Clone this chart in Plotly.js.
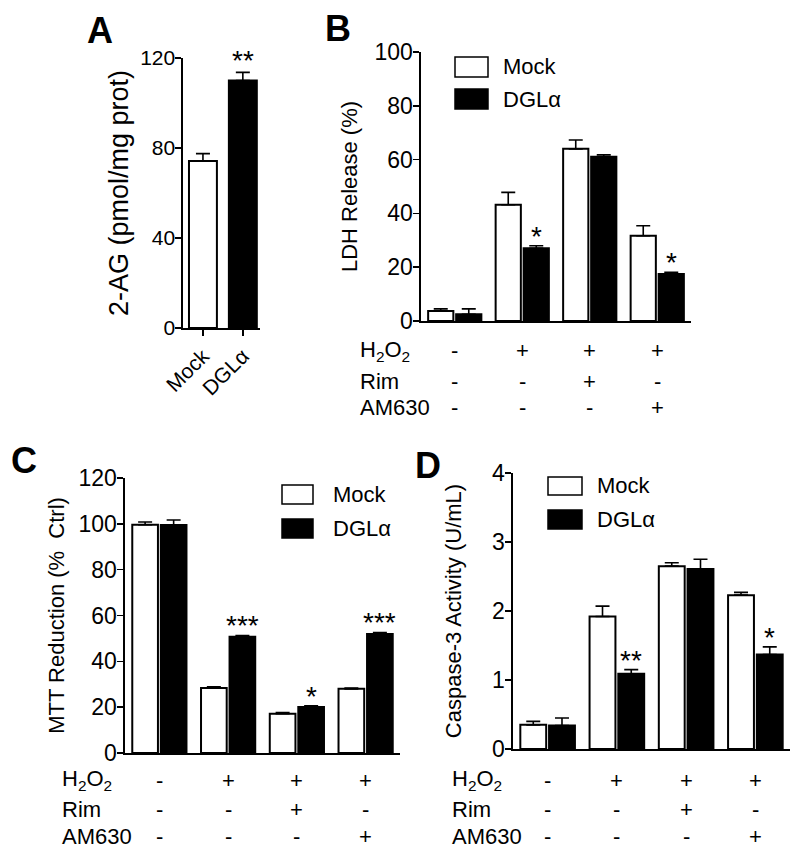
<!DOCTYPE html>
<html>
<head>
<meta charset="utf-8">
<script src="https://cdn.plot.ly/plotly-3.0.1.min.js"></script>
<style>html,body{margin:0;padding:0;background:#fff;}#chart{width:800px;height:853px;}</style>
</head>
<body>
<div id="chart"></div>
<script>
// ---------- data ----------
const catsA = ['Mock', 'DGLα'];
const valsA = [74.2, 110.0];
const errA = [3.3, 3.6];
const starsA = ['', '**'];

const conditions = [0, 1, 2, 3];
const rowH2O2 = ['-', '+', '+', '+'];
const rowRim = ['-', '-', '+', '-'];
const rowAM630 = ['-', '-', '-', '+'];

const mockB = [3.7, 43.2, 64.0, 31.7];
const mockBErr = [0.8, 4.6, 3.3, 3.7];
const dglB = [2.5, 27.0, 61.1, 17.5];
const dglBErr = [2.0, 1.0, 0.7, 0.6];
const starsB = ['', '*', '', '*'];

const mockC = [99.6, 28.4, 17.1, 28.0];
const mockCErr = [1.2, 0.5, 0.5, 0.3];
const dglC = [99.5, 50.7, 20.1, 51.9];
const dglCErr = [2.2, 0.6, 0.5, 0.7];
const starsC = ['', '***', '*', '***'];

const mockD = [0.35, 1.92, 2.65, 2.23];
const mockDErr = [0.05, 0.15, 0.05, 0.04];
const dglD = [0.34, 1.09, 2.61, 1.37];
const dglDErr = [0.11, 0.06, 0.14, 0.11];
const starsD = ['', '**', '', '*'];

const seriesNames = ['Mock', 'DGLα'];

// ---------- helpers ----------
const W = 800, H = 853;
const px = x => x / W;
const py = y => 1 - y / H;
const FONT = 'Liberation Sans, Arial, sans-serif';
const BARGAP = 0.17, BARGROUPGAP = 0.1;
const OFF = (1 - BARGAP) / 4;
const zeros = n => new Array(n).fill(0);

function errObj(arr) {
  return {type: 'data', array: arr, arrayminus: zeros(arr.length), symmetric: false,
          color: 'black', thickness: 1.6, width: 7};
}

const traces = [];
traces.push({
  type: 'bar', x: catsA, y: valsA, xaxis: 'x', yaxis: 'y', width: 0.7,
  marker: {color: ['white', 'black'], line: {color: 'black', width: 2}},
  error_y: errObj(errA), showlegend: false, hoverinfo: 'x+y'
});

function pair(xa, ya, mock, mockErr, dgl, dglErr) {
  traces.push({type: 'bar', name: seriesNames[0], x: conditions, y: mock, xaxis: xa, yaxis: ya,
    marker: {color: 'white', line: {color: 'black', width: 2}}, error_y: errObj(mockErr), showlegend: false});
  traces.push({type: 'bar', name: seriesNames[1], x: conditions, y: dgl, xaxis: xa, yaxis: ya,
    marker: {color: 'black', line: {color: 'black', width: 2}}, error_y: errObj(dglErr), showlegend: false});
}
pair('x2', 'y2', mockB, mockBErr, dglB, dglBErr);
pair('x3', 'y3', mockC, mockCErr, dglC, dglCErr);
pair('x4', 'y4', mockD, mockDErr, dglD, dglDErr);

const annotations = [];
const shapes = [];
const STAR = {size: 28, color: 'black', family: FONT};

// stars
starsA.forEach((s, i) => {
  if (s) annotations.push({xref: 'x', yref: 'y', x: catsA[i], y: valsA[i] + errA[i], text: s,
    showarrow: false, yanchor: 'bottom', yshift: -6, font: STAR});
});
function starAnn(xr, yr, vals, errs, stars) {
  stars.forEach((s, i) => {
    if (s) annotations.push({xref: xr, yref: yr, x: conditions[i] + OFF, y: vals[i] + errs[i], text: s,
      showarrow: false, yanchor: 'bottom', yshift: -8, font: STAR});
  });
}
starAnn('x2', 'y2', dglB, dglBErr, starsB);
starAnn('x3', 'y3', dglC, dglCErr, starsC);
starAnn('x4', 'y4', dglD, dglDErr, starsD);

// treatment tables
function table(xr, labelX, rowYs) {
  const labels = ['H<sub>2</sub>O<sub>2</sub>', 'Rim', 'AM630'];
  const rows = [rowH2O2, rowRim, rowAM630];
  labels.forEach((lab, r) => {
    annotations.push({xref: 'paper', yref: 'paper', x: px(labelX), y: py(rowYs[r]), text: lab,
      xanchor: 'left', yanchor: 'middle', showarrow: false, font: {size: 22, color: 'black', family: FONT}});
    rows[r].forEach((s, i) => {
      annotations.push({xref: xr, yref: 'paper', x: conditions[i], y: py(rowYs[r]), text: s,
        xanchor: 'center', yanchor: 'middle', showarrow: false, font: {size: 22, color: 'black', family: FONT}});
    });
  });
}
table('x2', 358, [351, 381, 407]);
table('x3', 60, [780, 809, 836]);
table('x4', 450, [780, 809, 836]);

// legends (swatches + labels)
function legend(x0, x1, boxes, textX) {
  boxes.forEach((b, k) => {
    shapes.push({type: 'rect', xref: 'paper', yref: 'paper', x0: px(x0), x1: px(x1), y0: py(b[1]), y1: py(b[0]),
      fillcolor: k === 0 ? 'white' : 'black', line: {color: 'black', width: 1.5}});
    annotations.push({xref: 'paper', yref: 'paper', x: px(textX), y: py((b[0] + b[1]) / 2), text: seriesNames[k],
      xanchor: 'left', yanchor: 'middle', showarrow: false, font: {size: 22, color: 'black', family: FONT}});
  });
}
legend(455, 488, [[57, 77], [89, 109]], 501);
legend(282, 313, [[485, 504], [519, 538]], 331);
legend(548, 582, [[477, 495], [510, 529]], 595);

// panel letters
[['A', 100, 30], ['B', 338, 28], ['C', 24, 460], ['D', 428, 465]].forEach(l => {
  annotations.push({xref: 'paper', yref: 'paper', x: px(l[1]), y: py(l[2]), text: '<b>' + l[0] + '</b>',
    xanchor: 'center', yanchor: 'middle', showarrow: false, font: {size: 36, color: 'black', family: FONT}});
});

const yBase = {showline: true, linecolor: 'black', linewidth: 1.6, ticks: 'outside', ticklen: 6, tickwidth: 1.6,
  tickcolor: 'black', showgrid: false, zeroline: false, tickfont: {size: 23, color: 'black', family: FONT},
  ticklabelstandoff: -4, automargin: false};
const xBase = {showline: true, linecolor: 'black', linewidth: 1.6, showgrid: false, zeroline: false,
  ticks: '', showticklabels: false, tickmode: 'array', tickvals: [], range: [-0.5, 3.5], automargin: false};

const layout = {
  width: W, height: H, margin: {l: 0, r: 0, t: 0, b: 0, autoexpand: false},
  paper_bgcolor: 'white', plot_bgcolor: 'rgba(0,0,0,0)',
  font: {family: FONT, color: 'black'},
  barmode: 'group', bargap: BARGAP, bargroupgap: BARGROUPGAP, showlegend: false,
  xaxis: {domain: [px(183), px(260)], anchor: 'y', type: 'category', range: [-0.5, 1.43], automargin: false,
    showline: true, linecolor: 'black', linewidth: 1.6, ticks: 'outside', ticklen: 6, tickwidth: 1.6, tickcolor: 'black',
    tickangle: -45, tickfont: {size: 21, color: 'black', family: FONT}, showgrid: false, zeroline: false},
  yaxis: Object.assign({}, yBase, {domain: [py(328), py(58)], anchor: 'x', range: [0, 120], tickvals: [0, 40, 80, 120],
    tickfont: {size: 21, color: 'black', family: FONT},
    title: {text: '2-AG (pmol/mg prot)', font: {size: 27, color: 'black', family: FONT}, standoff: 4}}),
  xaxis2: Object.assign({}, xBase, {domain: [px(421), px(691)], anchor: 'y2'}),
  yaxis2: Object.assign({}, yBase, {domain: [py(321), py(52)], anchor: 'x2', range: [0, 100], dtick: 20,
    title: {text: 'LDH Release (%)', font: {size: 22, color: 'black', family: FONT}, standoff: 11}}),
  xaxis3: Object.assign({}, xBase, {domain: [px(125), px(400)], anchor: 'y3'}),
  yaxis3: Object.assign({}, yBase, {domain: [py(753), py(478)], anchor: 'x3', range: [0, 120], dtick: 20,
    title: {text: 'MTT Reduction (%  Ctrl)', font: {size: 22, color: 'black', family: FONT}, standoff: 8}}),
  xaxis4: Object.assign({}, xBase, {domain: [px(513), px(790)], anchor: 'y4'}),
  yaxis4: Object.assign({}, yBase, {domain: [py(749), py(473)], anchor: 'x4', range: [0, 4], dtick: 1,
    title: {text: 'Caspase-3 Activity (U/mL)', font: {size: 22, color: 'black', family: FONT}, standoff: 24}}),
  annotations: annotations, shapes: shapes
};

Plotly.newPlot('chart', traces, layout, {displayModeBar: false, staticPlot: true});
</script>
</body>
</html>
